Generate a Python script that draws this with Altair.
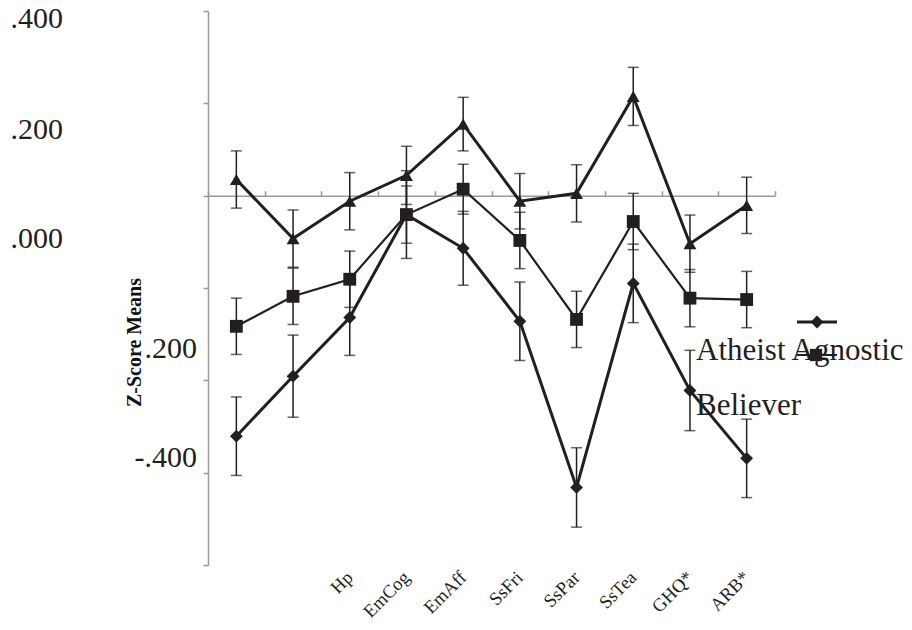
import altair as alt
import pandas as pd

categories = ["V1", "V2", "Hp", "EmCog", "EmAff", "SsFri", "SsPar", "SsTea", "GHQ*", "ARB*"]
groups = ["Atheist", "Agnostic", "Believer"]
atheist = [-0.521, -0.391, -0.264, -0.041, -0.114, -0.272, -0.632, -0.190, -0.422, -0.569]
atheist_err = [0.085, 0.089, 0.082, 0.095, 0.080, 0.085, 0.086, 0.085, 0.087, 0.085]
agnostic = [-0.283, -0.218, -0.181, -0.041, 0.014, -0.097, -0.268, -0.056, -0.222, -0.225]
agnostic_err = [0.061, 0.061, 0.061, 0.062, 0.054, 0.061, 0.061, 0.061, 0.062, 0.061]
believer = [0.035, -0.093, -0.012, 0.044, 0.155, -0.012, 0.005, 0.215, -0.104, -0.021]
believer_err = [0.062, 0.062, 0.062, 0.063, 0.058, 0.060, 0.062, 0.063, 0.062, 0.061]

y_ticks = [-0.8, -0.6, -0.4, -0.2, 0.0, 0.2, 0.4]
# the reference prints its tick labels displaced from the ticks
ylab_left_text = [".400", ".200", ".000"]
ylab_left_at = [0.363, 0.123, -0.113]
ylab_right_text = [".200", "-.400"]
ylab_right_at = [-0.352, -0.588]

rows = []
for g, means, errs in [("Atheist", atheist, atheist_err),
                       ("Agnostic", agnostic, agnostic_err),
                       ("Believer", believer, believer_err)]:
    for c, m, e in zip(categories, means, errs):
        rows.append({"group": g, "cat": c, "mean": m, "lo": m - e, "hi": m + e})
df = pd.DataFrame(rows)

INK = "#231f20"
GRAY = "#9a9a9a"
SERIF = "Liberation Serif"

xscale = alt.Scale(domain=categories, paddingInner=0, paddingOuter=0)
yscale = alt.Scale(domain=[-0.8, 0.4], nice=False, zero=False)

x_bottom = alt.X("cat:N", scale=xscale, sort=categories, title=None,
                 axis=alt.Axis(orient="bottom", domain=False, ticks=False, labelAngle=-45,
                               labelAlign="right", labelBaseline="middle", labelPadding=9,
                               labelFont=SERIF, labelFontSize=18.5, labelColor=INK,
                               labelExpr="indexof(datum.label, 'V') == 0 ? '' : datum.label"))
x_zero = alt.X("cat:N", scale=xscale, sort=categories, title=None,
               axis=alt.Axis(orient="top", offset=-184.7, labels=False, tickBand="extent",
                             tickSize=5, tickColor=GRAY, tickWidth=1.5,
                             domainColor=GRAY, domainWidth=1.5))
x_none = alt.X("cat:N", scale=xscale, sort=categories, axis=None)

y_axis = alt.Y("mean:Q", scale=yscale,
               axis=alt.Axis(values=y_ticks, labels=False, grid=False, tickSize=5,
                             tickColor=GRAY, tickWidth=1.5, domainColor=GRAY, domainWidth=1.5,
                             title="Z-Score Means", titleFont=SERIF, titleFontWeight="bold",
                             titleFontSize=20, titleColor="#111111", titleAngle=270,
                             titleX=-74, titleY=331, titleAlign="center",
                             titleBaseline="middle"))

base = alt.Chart(df)

lines_thick = base.transform_filter(alt.datum.group != "Agnostic").mark_line(
    color=INK, strokeWidth=3).encode(x=x_bottom, y=y_axis, detail="group:N")
lines_thin = base.transform_filter(alt.datum.group == "Agnostic").mark_line(
    color=INK, strokeWidth=2.2).encode(x=x_none, y=alt.Y("mean:Q", scale=yscale))

bars = base.mark_rule(color=INK, strokeWidth=1.5).encode(
    x=x_none, y=alt.Y("lo:Q", scale=yscale), y2="hi:Q")
cap_lo = base.mark_tick(color=INK, size=11, thickness=1.5).encode(
    x=x_none, y=alt.Y("lo:Q", scale=yscale))
cap_hi = base.mark_tick(color=INK, size=11, thickness=1.5).encode(
    x=x_none, y=alt.Y("hi:Q", scale=yscale))

points = base.mark_point(filled=True, opacity=1, color=INK, size=165).encode(
    x=x_zero,
    y=alt.Y("mean:Q", scale=yscale),
    shape=alt.Shape("group:N", scale=alt.Scale(domain=groups,
                                               range=["diamond", "square", "triangle-up"]),
                    legend=None),
)

ylab_l = alt.Chart(pd.DataFrame({"t": ylab_left_text, "v": ylab_left_at})).mark_text(
    font=SERIF, fontSize=30, color=INK, align="right", baseline="alphabetic").encode(
    x=alt.value(-145), y=alt.Y("v:Q", scale=yscale), text="t:N")
ylab_r = alt.Chart(pd.DataFrame({"t": ylab_right_text, "v": ylab_right_at})).mark_text(
    font=SERIF, fontSize=30, color=INK, align="right", baseline="alphabetic").encode(
    x=alt.value(-11), y=alt.Y("v:Q", scale=yscale), text="t:N")

one = pd.DataFrame({"k": [0]})
leg_text1 = alt.Chart(one).mark_text(font=SERIF, fontSize=31, color=INK, align="left",
                                     baseline="alphabetic", text="Atheist Agnostic").encode(
    x=alt.value(488), y=alt.value(349))
leg_text2 = alt.Chart(one).mark_text(font=SERIF, fontSize=31, color=INK, align="left",
                                     baseline="alphabetic", text="Believer").encode(
    x=alt.value(488), y=alt.value(404))
leg_line1 = alt.Chart(one).mark_rule(color=INK, strokeWidth=3).encode(
    x=alt.value(589), x2=alt.value(629), y=alt.value(311))
leg_pt1 = alt.Chart(one).mark_point(shape="diamond", filled=True, opacity=1, color=INK,
                                    size=165).encode(x=alt.value(609), y=alt.value(311))
leg_line2 = alt.Chart(one).mark_rule(color=INK, strokeWidth=2.2).encode(
    x=alt.value(589), x2=alt.value(629), y=alt.value(344))
leg_pt2 = alt.Chart(one).mark_point(shape="square", filled=True, opacity=1, color=INK,
                                    size=150).encode(x=alt.value(608), y=alt.value(344))

chart = alt.layer(
    ylab_l, ylab_r, leg_text1, leg_text2,
    lines_thick, lines_thin, bars, cap_lo, cap_hi, points,
    leg_line1, leg_pt1, leg_line2, leg_pt2,
).resolve_axis(x="independent").properties(
    width=567, height=554,
    autosize=alt.AutoSizeParams(type="none"),
    padding={"left": 200, "top": 3, "right": 129, "bottom": 56},
).configure_view(stroke=None)

chart.save("out.html", embed_options={"renderer": "svg", "actions": False})
